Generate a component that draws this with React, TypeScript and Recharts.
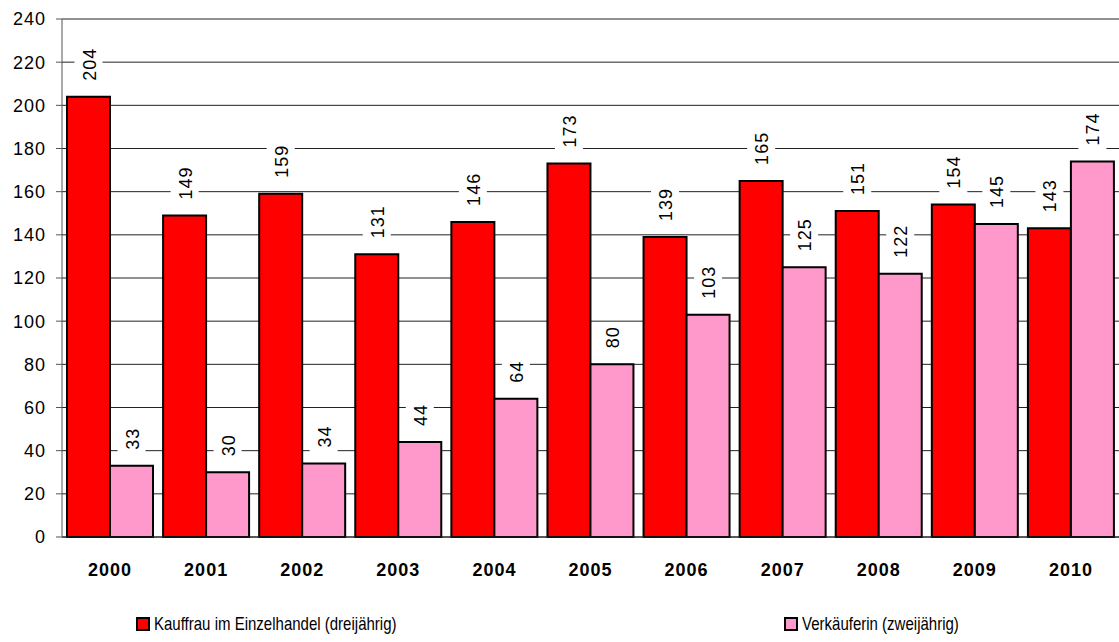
import { BarChart, Bar, XAxis, YAxis, CartesianGrid, Legend, LabelList } from 'recharts';

const years = ['2000', '2001', '2002', '2003', '2004', '2005', '2006', '2007', '2008', '2009', '2010'];
const kauffrau = [204, 149, 159, 131, 146, 173, 139, 165, 151, 154, 143];
const verkaeuferin = [33, 30, 34, 44, 64, 80, 103, 125, 122, 145, 174];
const yTicks = [0, 20, 40, 60, 80, 100, 120, 140, 160, 180, 200, 220, 240];

const data = years.map((year, i) => ({
  year,
  kauffrau: kauffrau[i],
  verkaeuferin: verkaeuferin[i],
}));

const font = 'Arial, "Liberation Sans", sans-serif';

// rotated value label with white box that cuts the grid lines
function BarValue(props: any) {
  const { x, y, width, value } = props;
  const cx = x + width / 2;
  const len = String(value).length * 11;
  return (
    <g transform={`translate(${cx}, ${y - 16}) rotate(-90)`}>
      <rect x={-5} y={-14} width={len + 8} height={28} fill="#fff" />
      <text x={0} y={1} dominantBaseline="central" fontSize={18} letterSpacing={1} fontFamily={font} fill="#000">
        {value}
      </text>
    </g>
  );
}

function LegendBox() {
  // legend text in the original is a narrow face, squeeze it horizontally
  const item = (color: string, label: string, left: number) => (
    <div style={{ position: 'absolute', left, top: 0, display: 'flex', alignItems: 'center', whiteSpace: 'nowrap' }}>
      <span style={{ width: 10, height: 10, background: color, border: '2px solid #000', marginRight: 4 }} />
      <span
        style={{
          display: 'inline-block',
          fontSize: 19,
          fontFamily: font,
          color: '#000',
          transform: 'scaleX(0.79)',
          transformOrigin: 'left center',
        }}
      >
        {label}
      </span>
    </div>
  );
  return (
    <div style={{ position: 'relative', width: 1119, height: 24 }}>
      {item('#ff0000', 'Kauffrau im Einzelhandel (dreijährig)', 136)}
      {item('#ff99cc', 'Verkäuferin (zweijährig)', 784)}
    </div>
  );
}

export default function App() {
  return (
    <div style={{ position: 'absolute', left: 0, top: 0, background: '#fff' }}>
      <BarChart
        width={1119}
        height={642}
        data={data}
        margin={{ top: 19, right: 0, bottom: 51, left: 0 }}
        barGap={0}
        barCategoryGap={5}
      >
        <CartesianGrid vertical={false} stroke="#222" strokeDasharray="" />
        <XAxis
          dataKey="year"
          height={30}
          tickLine={false}
          tickSize={0}
          tickMargin={26}
          axisLine={{ stroke: '#222' }}
          tick={{ fontSize: 18, fontWeight: 'bold', letterSpacing: 1, fontFamily: font, fill: '#000' }}
        />
        <YAxis
          width={62}
          domain={[0, 240]}
          ticks={yTicks}
          interval={0}
          tickSize={6}
          tickMargin={10}
          axisLine={{ stroke: '#555' }}
          tickLine={{ stroke: '#555' }}
          tick={{ fontSize: 18, letterSpacing: 1, fontFamily: font, fill: '#000' }}
        />
        <Legend
          verticalAlign="bottom"
          height={24}
          wrapperStyle={{ left: 0, bottom: 5 }}
          content={() => <LegendBox />}
        />
        <Bar dataKey="kauffrau" name="Kauffrau im Einzelhandel (dreijährig)" fill="#ff0000" stroke="#000" strokeWidth={2} isAnimationActive={false}>
          <LabelList dataKey="kauffrau" content={BarValue} />
        </Bar>
        <Bar dataKey="verkaeuferin" name="Verkäuferin (zweijährig)" fill="#ff99cc" stroke="#000" strokeWidth={2} isAnimationActive={false}>
          <LabelList dataKey="verkaeuferin" content={BarValue} />
        </Bar>
      </BarChart>
    </div>
  );
}
